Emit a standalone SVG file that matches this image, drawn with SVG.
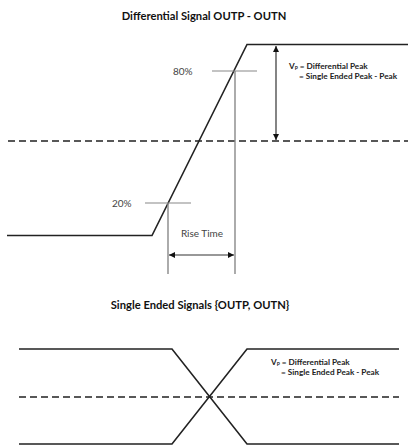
<svg xmlns="http://www.w3.org/2000/svg" width="408" height="447" viewBox="0 0 408 447">
<style>
.title{font-family:Lato,"Liberation Sans",sans-serif;font-weight:bold;font-size:11.2px;fill:#111}
.lbl{font-family:Lato,"Liberation Sans",sans-serif;font-size:10px;fill:#444}
.vp{font-family:Lato,"Liberation Sans",sans-serif;font-weight:bold;font-size:8.2px;fill:#222}
.sig{fill:none;stroke:#222;stroke-width:1.6}
.dash{fill:none;stroke:#222;stroke-width:1.6;stroke-dasharray:7 4}
.tick{fill:none;stroke:#888;stroke-width:1.2}
.mark{fill:none;stroke:#888;stroke-width:1.4}
.arr{fill:none;stroke:#333;stroke-width:1.2}
</style>
<defs>
<marker id="ah" viewBox="0 0 10 10" refX="10" refY="5" markerWidth="7" markerHeight="6" markerUnits="userSpaceOnUse" orient="auto-start-reverse">
<path d="M0,0 L10,5 L0,10 z" fill="#111"/>
</marker>
</defs>
<g id="title-diff"><text class="title" x="204" y="20" text-anchor="middle">Differential Signal OUTP - OUTN</text></g>
<g id="diff-signal"><path class="sig" d="M7,235.5 H152 L247,44.5 H408"/></g>
<g id="diff-midline"><path class="dash" d="M8,141 H408"/></g>
<g id="tick80"><path class="tick" d="M212,71 H257"/><text class="lbl" x="173" y="75">80%</text></g>
<g id="tick20"><path class="tick" d="M145,203 H191"/><text class="lbl" x="112" y="207">20%</text></g>
<g id="vp-top"><text class="vp" x="289" y="69">V<tspan font-size="5" dy="1">P</tspan><tspan dy="-1"> = Differential Peak</tspan></text><text class="vp" x="299" y="78.5">= Single Ended Peak - Peak</text></g>
<g id="rise-time"><text class="lbl" x="202" y="237" text-anchor="middle">Rise Time</text></g>
<g id="connectors">
<path class="mark" d="M168,203 V274"/>
<path class="mark" d="M235,71 V274"/>
<path class="arr" d="M169,255 H234" marker-start="url(#ah)" marker-end="url(#ah)"/>
<path class="arr" d="M276,46 V140" marker-start="url(#ah)" marker-end="url(#ah)"/>
</g>
<g id="title-se"><text class="title" x="200" y="309" text-anchor="middle">Single Ended Signals {OUTP, OUTN}</text></g>
<g id="se-signals">
<path class="sig" d="M19,349 H172 L247,444 H399"/>
<path class="sig" d="M19,444 H172 L247,349 H399"/>
<path class="dash" d="M19,397 H399"/>
</g>
<g id="vp-bottom"><text class="vp" x="271" y="365">V<tspan font-size="5" dy="1">P</tspan><tspan dy="-1"> = Differential Peak</tspan></text><text class="vp" x="281" y="374.5">= Single Ended Peak - Peak</text></g>
</svg>
